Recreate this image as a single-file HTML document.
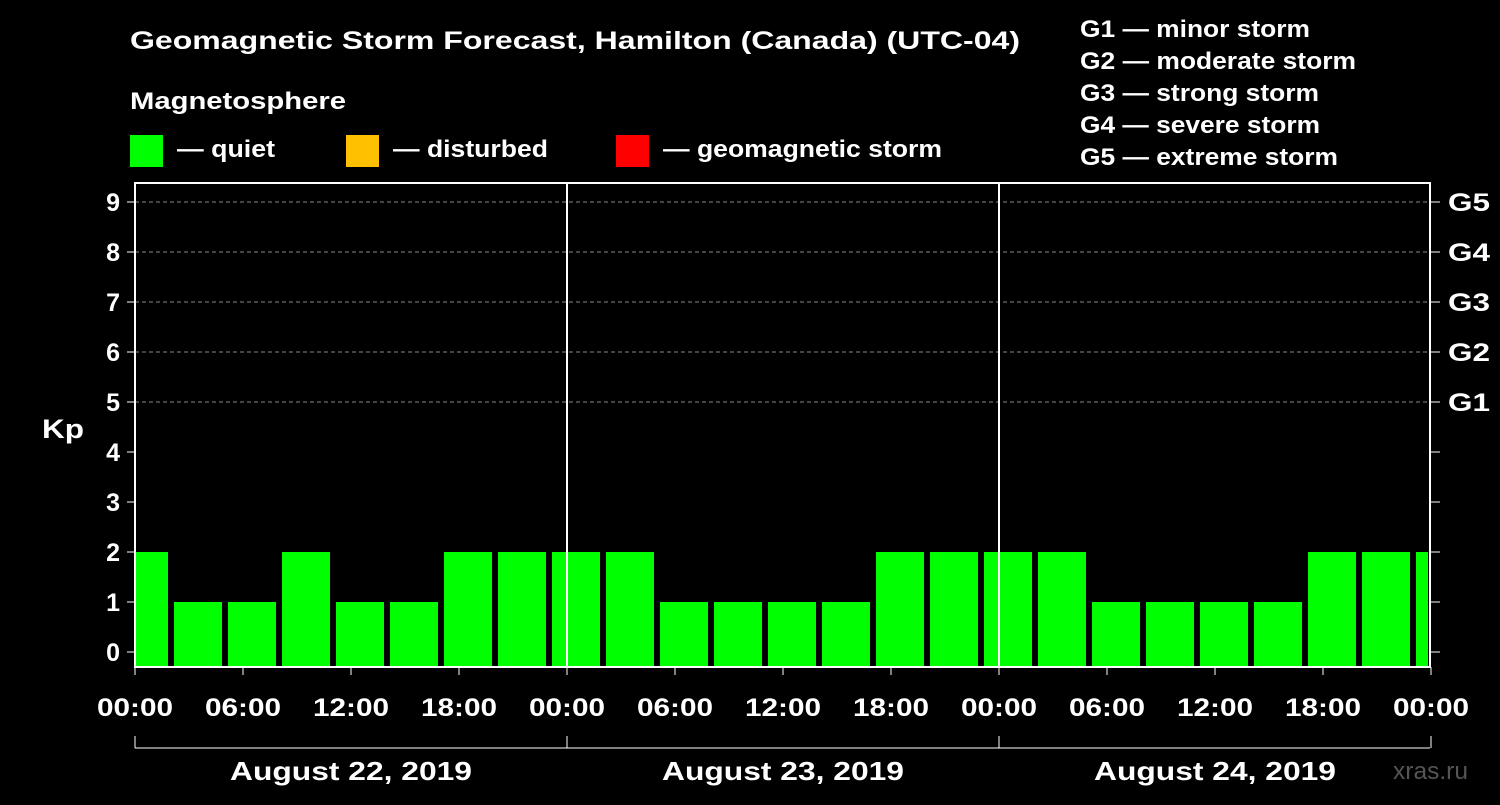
<!DOCTYPE html>
<html><head><meta charset="utf-8"><style>
body{margin:0;background:#000;width:1500px;height:800px;overflow:hidden}
svg text{font-family:"Liberation Sans",Arial,sans-serif;font-weight:bold;fill:#fff}
</style></head><body>
<svg id="chart" width="1500" height="800" font-family="Liberation Sans, Arial, sans-serif">
<text x="130" y="49" font-size="25" textLength="890" lengthAdjust="spacingAndGlyphs">Geomagnetic Storm Forecast, Hamilton (Canada) (UTC-04)</text>
<text x="130" y="109" font-size="24" textLength="216" lengthAdjust="spacingAndGlyphs">Magnetosphere</text>
<rect x="130" y="135" width="33" height="32" fill="#00ff00"/>
<text x="177" y="157" font-size="24" textLength="98" lengthAdjust="spacingAndGlyphs">— quiet</text>
<rect x="346" y="135" width="33" height="32" fill="#ffc000"/>
<text x="393" y="157" font-size="24" textLength="155" lengthAdjust="spacingAndGlyphs">— disturbed</text>
<rect x="616" y="135" width="33" height="32" fill="#ff0000"/>
<text x="663" y="157" font-size="24" textLength="279" lengthAdjust="spacingAndGlyphs">— geomagnetic storm</text>
<g font-size="24">
<text x="1080" y="37" textLength="230" lengthAdjust="spacingAndGlyphs">G1 — minor storm</text>
<text x="1080" y="69" textLength="276" lengthAdjust="spacingAndGlyphs">G2 — moderate storm</text>
<text x="1080" y="101" textLength="239" lengthAdjust="spacingAndGlyphs">G3 — strong storm</text>
<text x="1080" y="133" textLength="240" lengthAdjust="spacingAndGlyphs">G4 — severe storm</text>
<text x="1080" y="165" textLength="258" lengthAdjust="spacingAndGlyphs">G5 — extreme storm</text>
</g>
<text x="42" y="438" font-size="27" textLength="42" lengthAdjust="spacingAndGlyphs">Kp</text>
<text x="1393" y="779" font-size="24" textLength="75" lengthAdjust="spacingAndGlyphs" style="fill:#555;font-weight:normal">xras.ru</text>
<g id="grid"></g><g id="bars"></g><g id="axes"></g>
</svg>
<script>
const kpValues=[2,1,1,2,1,1,2,2,2,2,1,1,1,1,2,2,2,2,1,1,1,1,2,2,2];
const yTicks=[0,1,2,3,4,5,6,7,8,9];
const gLabels=["","","","","","G1","G2","G3","G4","G5"];
const xTickLabels=["00:00","06:00","12:00","18:00","00:00","06:00","12:00","18:00","00:00","06:00","12:00","18:00","00:00"];
const dayLabels=["August 22, 2019","August 23, 2019","August 24, 2019"];
const L=135,R=1430,T=183,B=667;
const y=v=>652-v*50;
const xh=h=>L+h*18;
const NS="http://www.w3.org/2000/svg";
function mk(tag,attrs,parent,txt){const e=document.createElementNS(NS,tag);for(const k in attrs)e.setAttribute(k,attrs[k]);if(txt!=null)e.textContent=txt;parent.appendChild(e);return e;}
const grid=document.getElementById('grid'),bars=document.getElementById('bars'),axes=document.getElementById('axes');
mk('clipPath',{id:'clip'},bars);mk('rect',{x:L,y:T,width:R-L-2,height:B-T},bars.lastChild);
yTicks.forEach(v=>{
  if(v>=5){const g=mk('line',{x1:L,x2:R,y1:y(v),y2:y(v),stroke:'#888','stroke-dasharray':'4,3','stroke-width':1},grid);
  }
  const t=mk('text',{x:120,y:y(v)+9,'font-size':25,'text-anchor':'end'},axes,String(v));
  
  mk('line',{x1:127,x2:L,y1:y(v),y2:y(v),stroke:'#fff','stroke-width':1},axes);
  mk('line',{x1:R,x2:1440,y1:y(v),y2:y(v),stroke:'#fff','stroke-width':1},axes);
  if(gLabels[v]){const g=mk('text',{x:1448,y:y(v)+9,'font-size':25,textLength:42,lengthAdjust:'spacingAndGlyphs'},axes,gLabels[v]);
  }
});
const bg=mk('g',{'clip-path':'url(#clip)'},bars);
kpValues.forEach((v,i)=>{
  const c=xh(0.5+3*i);
  const col=v>=5?'#ff0000':(v>=4?'#ffc000':'#00ff00');
  const r=mk('rect',{x:c-24,y:y(v),width:48,height:B-y(v),fill:col},bg);
  
});
[1,2].forEach(d=>mk('line',{x1:xh(24*d),x2:xh(24*d),y1:T,y2:B,stroke:'#fff','stroke-width':2},axes));
mk('rect',{x:L,y:T,width:R-L,height:B-T,fill:'none',stroke:'#fff','stroke-width':2},axes);
xTickLabels.forEach((s,i)=>{
  const x=xh(6*i);
  mk('line',{x1:x,x2:x,y1:B,y2:B+8,stroke:'#fff','stroke-width':1},axes);
  const t=mk('text',{x:x-38,y:716,'font-size':25,textLength:76,lengthAdjust:'spacingAndGlyphs'},axes,s);
  
});
mk('line',{x1:L,x2:R,y1:748,y2:748,stroke:'#fff','stroke-width':1},axes);
[0,1,2,3].forEach(d=>mk('line',{x1:xh(24*d),x2:xh(24*d),y1:736,y2:748,stroke:'#fff','stroke-width':1},axes));
dayLabels.forEach((s,i)=>{
  const t=mk('text',{x:xh(24*i+12)-121,y:780,'font-size':26,textLength:242,lengthAdjust:'spacingAndGlyphs'},axes,s);
  
});
</script>
</body></html>
